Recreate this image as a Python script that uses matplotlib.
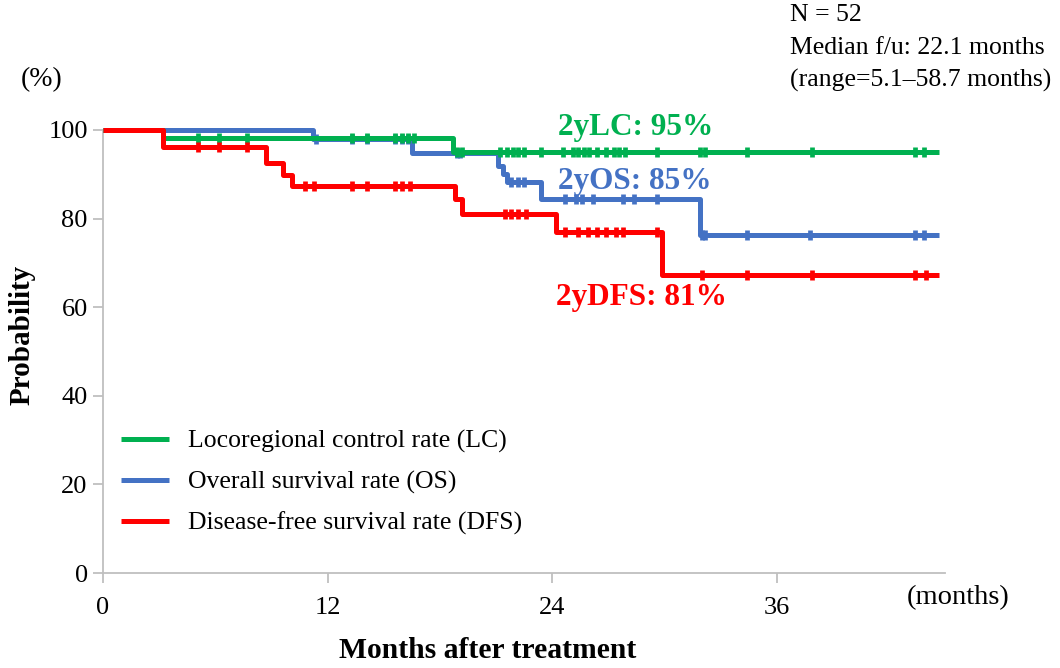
import numpy as np
import matplotlib
matplotlib.use("Agg")
import matplotlib.pyplot as plt

# Kaplan-Meier step data (months, %)
lc_times = [0, 3.2, 18.7]
lc_levels = [100, 98.1, 95.1]
lc_censor = [5.1, 6.2, 7.7, 13.3, 14.1, 15.6, 16.0, 16.3, 16.6, 18.9, 19.2,
             21.2, 21.6, 21.9, 22.2, 22.5, 23.4, 24.6, 25.1, 25.4, 25.7, 26.0,
             26.4, 26.9, 27.3, 27.6, 27.9, 29.6, 31.9, 32.2, 34.4, 37.9, 43.4, 43.9]

os_times = [0, 11.2, 16.5, 21.1, 21.4, 21.6, 23.4, 31.9]
os_levels = [100, 97.9, 94.7, 91.9, 90.0, 88.2, 84.4, 76.2]
os_censor = [11.4, 13.3, 14.1, 15.6, 16.0, 16.3, 18.9, 19.1, 21.8, 22.2, 22.5,
             24.7, 25.3, 25.6, 26.2, 27.8, 28.4, 29.6, 32.0, 32.2, 34.4, 37.8,
             43.4, 43.9]

dfs_times = [0, 3.2, 8.7, 9.6, 10.1, 18.8, 19.2, 24.2, 29.9]
dfs_levels = [100, 96.2, 92.5, 89.9, 87.3, 84.4, 81.0, 77.0, 67.3]
dfs_censor = [5.1, 6.2, 7.7, 10.8, 11.3, 13.3, 14.1, 15.6, 16.0, 16.4, 21.5,
              21.8, 22.2, 22.6, 24.7, 25.4, 25.9, 26.4, 26.9, 27.4, 27.8, 29.6,
              32.0, 34.4, 37.9, 43.4, 44.0]

end_time = 44.7

labels = ["Locoregional control rate (LC)", "Overall survival rate (OS)",
          "Disease-free survival rate (DFS)"]
colors = ["#00b050", "#4472c4", "#ff0000"]
annotations = ["2yLC: 95%", "2yOS: 85%", "2yDFS: 81%"]

plt.rcParams["font.family"] = ["Liberation Serif", "DejaVu Serif"]

fig = plt.figure(figsize=(10.6, 6.68), dpi=100)
ax = fig.add_axes([103 / 1060, 1 - 573 / 668, (945 - 103) / 1060, (573 - 130) / 668])


def draw_km(times, levels, censor, color, label, z):
    xs = list(times) + [end_time]
    ys = list(levels) + [levels[-1]]
    ax.step(xs, ys, where="post", color=color, lw=3.6, label=label,
            zorder=z, clip_on=False, solid_capstyle="butt")
    idx = np.searchsorted(times, censor, side="right") - 1
    cy = np.array(levels)[idx]
    ax.plot(censor, cy, ls="none", marker="|", ms=6.5, mew=3.4, color=color,
            zorder=z, clip_on=False)


draw_km(os_times, os_levels, os_censor, colors[1], labels[1], 3)
draw_km(lc_times, lc_levels, lc_censor, colors[0], labels[0], 4)
draw_km(dfs_times, dfs_levels, dfs_censor, colors[2], labels[2], 5)

ax.set_xlim(0, 45)
ax.set_ylim(0, 100)
ax.set_xticks([0, 12, 24, 36])
ax.set_yticks([0, 20, 40, 60, 80, 100])
ax.tick_params(axis="both", labelsize=19, color="#bfbfbf", width=1.3, length=7)
ax.tick_params(axis="x", pad=10)
ax.tick_params(axis="y", pad=4)
for s in ["top", "right"]:
    ax.spines[s].set_visible(False)
for s in ["left", "bottom"]:
    ax.spines[s].set_color("#bfbfbf")
    ax.spines[s].set_linewidth(1.3)

# curve annotations
fig.text(558 / 1060, 1 - 127 / 668, annotations[0], color=colors[0], fontsize=22.5,
         fontweight="bold", va="center", ha="left")
fig.text(558 / 1060, 1 - 182 / 668, annotations[1], color=colors[1], fontsize=22.5,
         fontweight="bold", va="center", ha="left")
fig.text(556 / 1060, 1 - 298 / 668, annotations[2], color=colors[2], fontsize=22.5,
         fontweight="bold", va="center", ha="left")

# legend
handles, _ = ax.get_legend_handles_labels()
order = [1, 0, 2]
ax.legend([handles[i] for i in order], labels, loc="lower left",
          bbox_to_anchor=(0.0, 0.045), frameon=False, fontsize=18.5,
          handlelength=1.85, handletextpad=0.75, labelspacing=0.68,
          borderaxespad=0.3)

# axis labels
fig.text(488 / 1060, 1 - 650 / 668, "Months after treatment", fontsize=21.3,
         fontweight="bold", ha="center", va="center")
fig.text(22 / 1060, 1 - 335 / 668, "Probability", fontsize=21, fontweight="bold",
         rotation=90, ha="center", va="center")
fig.text(42 / 1060, 1 - 80 / 668, "(%)", fontsize=20, ha="center", va="center")
fig.text(958 / 1060, 1 - 598 / 668, "(months)", fontsize=20.5, ha="center", va="center")

# study info
info = ["N = 52", "Median f/u: 22.1 months", "(range=5.1\u201358.7 months)"]
for i, line in enumerate(info):
    fig.text(790 / 1060, 1 - (15 + 32.5 * i) / 668, line, fontsize=18.5,
             ha="left", va="center")

fig.savefig("out.png", dpi=100)
